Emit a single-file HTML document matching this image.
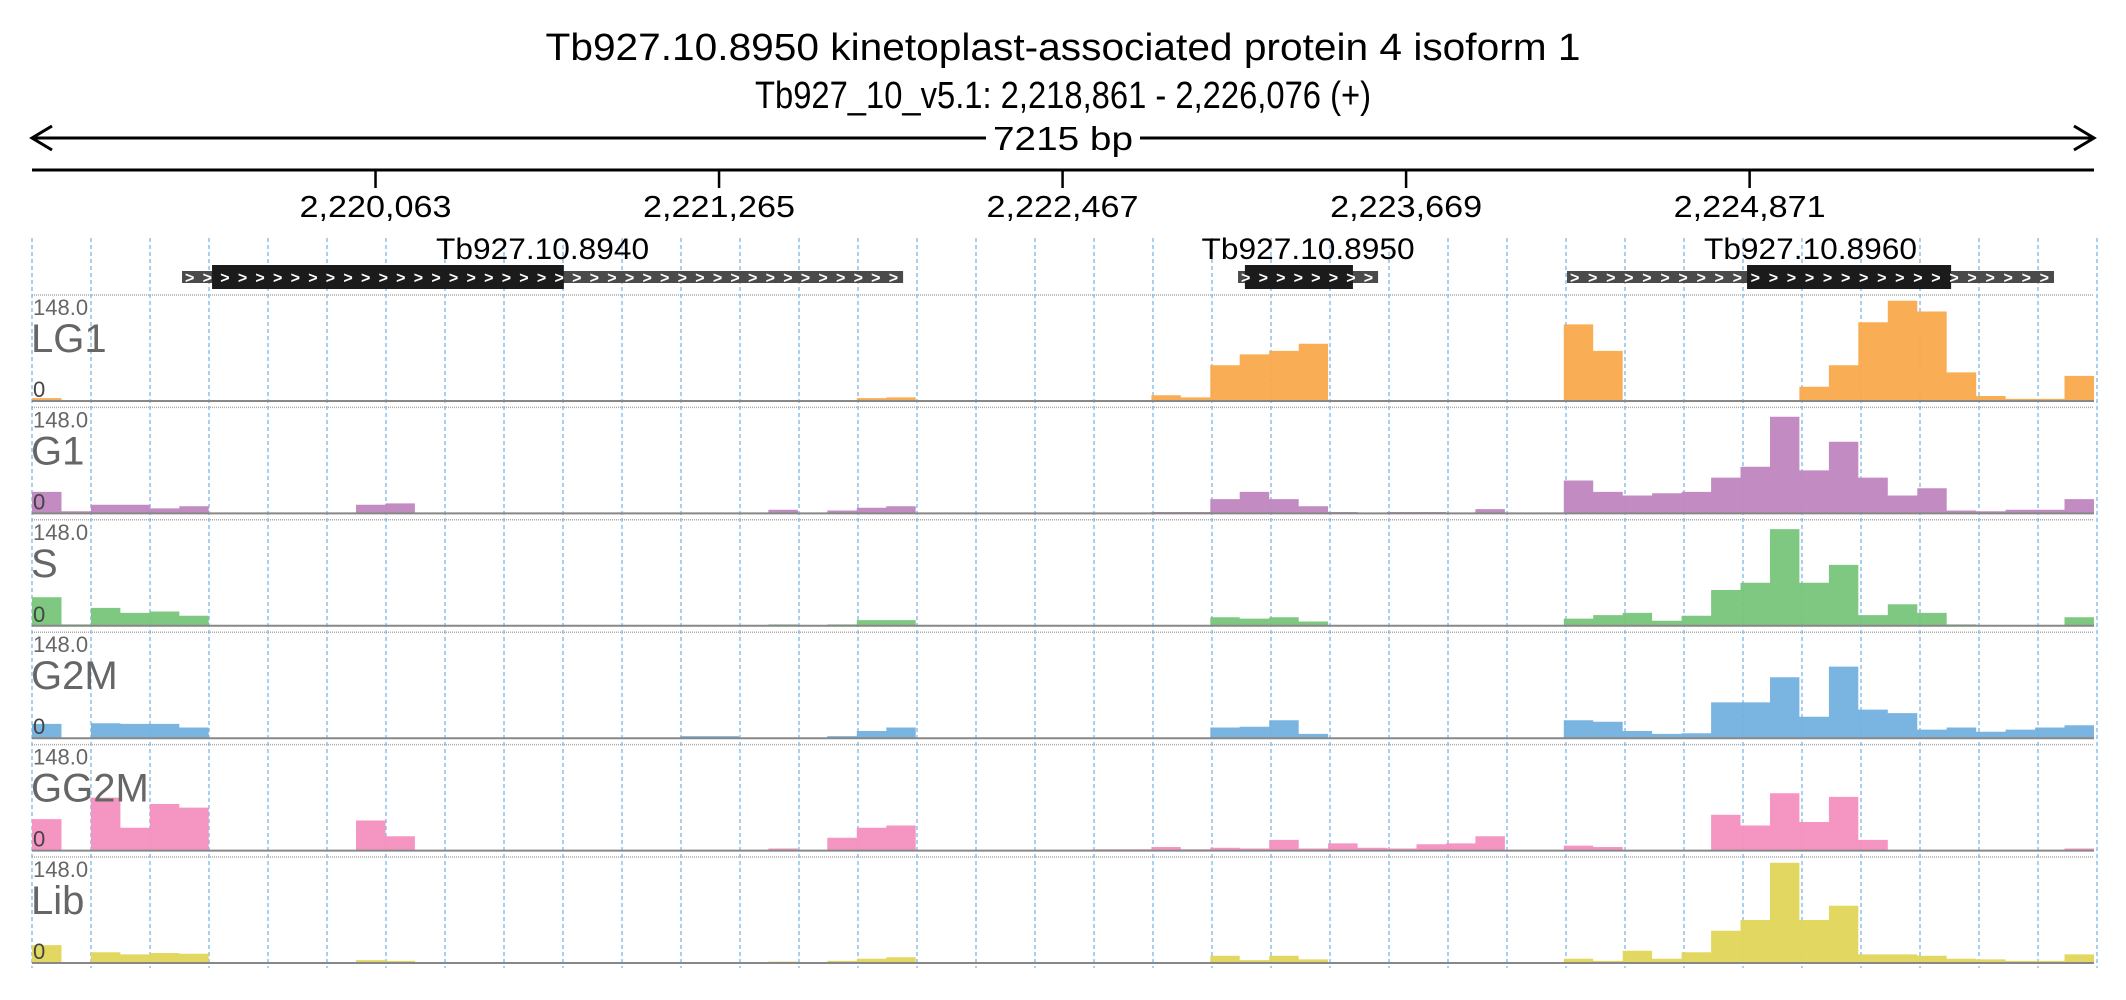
<!DOCTYPE html>
<html><head><meta charset="utf-8"><style>
html,body{margin:0;padding:0;background:#fff;}
svg{display:block;font-family:"Liberation Sans",sans-serif;}
</style></head><body>
<svg id="chart" width="2126" height="1000" viewBox="0 0 2126 1000" xmlns="http://www.w3.org/2000/svg">
<g id="header">
<text x="1063" y="60" font-size="38" text-anchor="middle" textLength="1035" lengthAdjust="spacingAndGlyphs">Tb927.10.8950  kinetoplast-associated protein 4 isoform 1</text>
<text x="1063" y="108" font-size="38" text-anchor="middle" textLength="616" lengthAdjust="spacingAndGlyphs">Tb927_10_v5.1: 2,218,861 - 2,226,076 (+)</text>
<line x1="32" y1="138" x2="986" y2="138" stroke="#000" stroke-width="3"/>
<line x1="1140" y1="138" x2="2094" y2="138" stroke="#000" stroke-width="3"/>
<polyline points="52,126 32,138 52,150" fill="none" stroke="#000" stroke-width="3"/>
<polyline points="2074,126 2094,138 2074,150" fill="none" stroke="#000" stroke-width="3"/>
<text x="1063" y="150" font-size="33" text-anchor="middle" textLength="140" lengthAdjust="spacingAndGlyphs">7215 bp</text>
<line x1="32" y1="170" x2="2094" y2="170" stroke="#000" stroke-width="3"/>
</g>
<g id="grid"></g>
<g id="axis"></g>
<g id="genes"></g>
<g id="tracks"></g>
</svg>
<script>
const startBp = 2218861, endBp = 2226076;
const tickValues = [2220063, 2221265, 2222467, 2223669, 2224871];
const tickLabels = ["2,220,063", "2,221,265", "2,222,467", "2,223,669", "2,224,871"];
const geneNames = ["Tb927.10.8940", "Tb927.10.8950", "Tb927.10.8960"];
const geneStarts = [2219386, 2223081, 2224232];
const geneEnds = [2221909, 2223571, 2225936];
const cdsStarts = [2219491, 2223105, 2224862];
const cdsEnds = [2220722, 2223483, 2225576];
const trackNames = ["LG1", "G1", "S", "G2M", "GG2M", "Lib"];
const trackColors = ["#f9a94b", "#bf86bf", "#78c57a", "#73b0df", "#f48fbf", "#e0d658"];
const yMax = 148;
// coverage values in 70 bins (~103 bp each)
const lg1 = [4,0,0,0,0,0,0,0,0,0,0,0,0,0,0,0,0,0,0,0,0,0,0,0,0,0,0,0,4,5,0,0,0,0,0,0,
  0,0,8,5,50,65,70,80,0,0,0,0,0,0,0,0,107,70,0,0,0,0,0,0,20,50,110,140,125,40,7,3,3,35];
const g1 = [30,3,12,12,7,10,0,0,0,0,0,12,14,0,0,0,0,0,0,0,0,0,0,0,0,5,0,4,8,10,0,0,0,0,0,0,
  0,0,2,2,20,30,20,10,2,0,2,2,0,6,0,0,46,30,25,28,30,50,65,135,60,100,50,25,35,4,3,5,5,20];
const sPhase = [40,2,25,18,20,14,0,0,0,0,0,0,0,0,0,0,0,0,0,0,0,0,0,0,0,2,0,2,8,8,0,0,0,0,0,0,
  0,0,1,0,12,10,12,6,1,0,1,0,0,1,0,0,10,15,18,7,14,50,60,135,60,85,15,30,18,2,1,1,1,12];
const g2m = [20,1,21,20,20,15,0,0,0,0,0,0,1,0,0,0,0,0,0,0,0,0,3,3,0,0,0,3,10,15,0,0,0,0,0,0,
  0,0,1,0,15,16,25,6,0,0,0,0,0,0,0,0,25,23,10,6,7,50,50,85,30,100,40,35,12,15,9,12,15,18];
const gg2m = [44,0,74,32,65,60,0,0,0,0,0,42,20,0,0,0,0,0,0,0,0,0,0,0,0,3,0,18,32,35,0,0,0,0,0,0,
  2,2,5,2,4,3,15,3,10,4,3,9,10,20,0,0,7,5,0,0,0,50,35,80,40,75,15,0,0,0,0,0,0,3];
const lib = [25,1,15,12,14,13,0,0,0,0,0,4,3,0,0,0,0,0,0,0,0,0,0,0,0,2,0,3,6,8,0,0,0,0,0,0,
  0,1,1,0,10,4,10,5,0,0,0,0,0,0,0,0,6,3,17,6,15,45,60,140,60,80,12,12,10,6,5,3,3,12];
const trackData = [lg1, g1, sPhase, g2m, gg2m, lib];

const NS = "http://www.w3.org/2000/svg";
const X0 = 32, X1 = 2094;
const xScale = bp => X0 + (bp - startBp) / (endBp - startBp) * (X1 - X0);
const trackTop = i => 295 + 112.4 * i;
const trackH = 106;
function mk(tag, attrs, parent) {
  const e = document.createElementNS(NS, tag);
  for (const k in attrs) e.setAttribute(k, attrs[k]);
  parent.appendChild(e);
  return e;
}
const grid = document.getElementById('grid');
for (let k = 0; k <= 35; k++) {
  const x = X0 + 59 * k;
  const l = mk('line', {x1: x, y1: 238, x2: x, y2: 968, stroke: '#8ec0ea', 'stroke-width': 1.5, 'stroke-dasharray': '4,3'}, grid);
  
  
}
const axis = document.getElementById('axis');
tickValues.forEach((v, i) => {
  const x = xScale(v);
  const t = mk('line', {x1: x, y1: 170, x2: x, y2: 188, stroke: '#000', 'stroke-width': 2.5}, axis);
  
  
  const lb = mk('text', {x: x, y: 217, 'font-size': 31, 'text-anchor': 'middle', textLength: 152, lengthAdjust: 'spacingAndGlyphs'}, axis);
  lb.textContent = tickLabels[i];
  
  
});
const genes = document.getElementById('genes');
geneNames.forEach((n, i) => {
  const g = mk('g', {}, genes);
  
  
  const gx0 = xScale(geneStarts[i]), gx1 = xScale(geneEnds[i]);
  const cx0 = xScale(cdsStarts[i]), cx1 = xScale(cdsEnds[i]);
  mk('rect', {x: gx0, y: 271, width: gx1 - gx0, height: 12, fill: '#4a4a4a'}, g);
  mk('rect', {x: cx0, y: 265, width: cx1 - cx0, height: 24, fill: '#1b1b1b'}, g);
  let s = '';
  for (let x = gx0 + 4; x < gx1 - 8; x += 17.6) s += '>';
  const ch = mk('text', {x: gx0 + 3, y: 283, 'font-size': 16, fill: '#fff', 'font-weight': 'bold', textLength: gx1 - gx0 - 8, lengthAdjust: 'spacing'}, g);
  ch.textContent = s;
  const lb = mk('text', {x: (gx0 + gx1) / 2, y: 259, 'font-size': 30, 'text-anchor': 'middle', textLength: 213, lengthAdjust: 'spacingAndGlyphs'}, g);
  lb.textContent = n;
  
  
});
const tracks = document.getElementById('tracks');
const binBp = (endBp - startBp) / lg1.length;
trackNames.forEach((name, ti) => {
  const g = mk('g', {}, tracks);
  
  
  const top = trackTop(ti), base = top + trackH;
  mk('line', {x1: X0, y1: top, x2: X1, y2: top, stroke: '#aaa', 'stroke-width': 1.5, 'stroke-dasharray': '1,1'}, g);
  const vals = trackData[ti];
  const yS = v => base - Math.min(v, yMax) / yMax * trackH;
  let d = 'M' + X0 + ',' + base;
  vals.forEach((v, j) => {
    const xa = xScale(startBp + j * binBp), xb = xScale(startBp + (j + 1) * binBp);
    d += ' L' + xa.toFixed(1) + ',' + yS(v).toFixed(1) + ' L' + xb.toFixed(1) + ',' + yS(v).toFixed(1);
  });
  d += ' L' + X1 + ',' + base + ' Z';
  const area = mk('path', {d: d, fill: trackColors[ti], 'fill-opacity': 0.95}, g);
  
  
  mk('line', {x1: X0, y1: base, x2: X1, y2: base, stroke: '#888', 'stroke-width': 2}, g);
  const mx = mk('text', {x: X0 + 1, y: top + 20, 'font-size': 22, fill: '#666'}, g);
  mx.textContent = '148.0';
  
  
  const tl = mk('text', {x: X0 - 1, y: top + 57, 'font-size': 40, fill: '#666'}, g);
  tl.textContent = name;
  
  
  const z = mk('text', {x: X0 + 1, y: base - 4, 'font-size': 22, fill: '#444'}, g);
  z.textContent = '0';
  
  
});
</script>
</body></html>
